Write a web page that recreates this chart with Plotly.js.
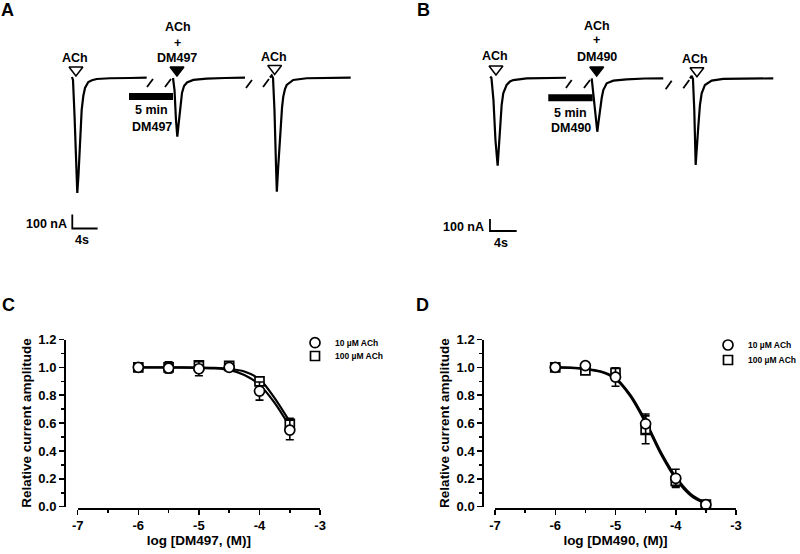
<!DOCTYPE html>
<html><head><meta charset="utf-8">
<script src="https://cdn.plot.ly/plotly-3.0.1.min.js"></script>
<style>html,body{margin:0;padding:0;background:#fff}#chart{width:800px;height:554px}</style>
</head><body><div id="chart"></div>
<script>
// ---------- Panel A recordings (time in s, current in nA) ----------
const aT1 = [-0.05, 0.11, 0.35, 0.58, 0.79, 0.98, 1.22, 1.48, 1.74, 2.01, 2.53, 3.11, 3.85, 5.96, 9.12, 11.75];
const aI1 = [7, -14, -264, -657, -821, -693, -443, -229, -129, -71, -29, -16, -7, -2, 0, 2];
const aT2 = [15.91, 16.15, 16.38, 16.59, 16.78, 17.01, 17.33, 17.65, 18.12, 19.12, 21.23, 24.12, 27.28];
const aI2 = [0, -86, -300, -419, -336, -214, -107, -57, -32, -14, -5, 0, 2];
const aT3 = [31.23, 31.5, 31.71, 31.94, 32.18, 32.31, 32.5, 32.81, 33.13, 33.33, 33.6, 33.87, 34.39, 34.91, 37.03, 40.71, 43.98];
const aI3 = [4, 18, 0, -229, -621, -812, -657, -393, -214, -134, -79, -50, -29, -14, -2, 0, 2];
const aBreakT = [11.8, 12.75, null, 14.64, 15.59, null, 27.44, 28.39, null, 30.13, 31.07];
const aBreakI = [-64, -7, null, -64, -7, null, -71, -14, null, -64, -7];
const aDrugT = [8.96, 15.91];          // 5 min DM497 pre-application
const aDrugI = [-132, -132];
const aScaleT = [0, 0, 4];             // 100 nA / 4 s
const aScaleI = [-975, -1075, -1075];
const aOpenT = [0.58, 31.97], aOpenI = [57, 68];   // ACh
const aFillT = [16.54], aFillI = [57];             // ACh + DM497

// ---------- Panel B recordings ----------
const bT1 = [0.04, 0.22, 0.52, 0.82, 1.15, 1.32, 1.5, 1.75, 1.99, 2.25, 2.5, 3.0, 3.49, 5.5, 8.25, 11.39];
const bI1 = [12, 0, -183, -517, -731, -600, -406, -225, -128, -83, -58, -29, -17, -3, 0, 2];
const bT2 = [15.25, 15.52, 15.82, 16.09, 16.27, 16.49, 16.75, 16.99, 17.5, 18.49, 20.49, 23.24, 25.98];
const bI2 = [-3, -142, -350, -448, -367, -267, -167, -100, -44, -22, -11, -4, -3];
const bT3 = [29.99, 30.24, 30.43, 30.63, 30.84, 31.03, 31.23, 31.48, 31.74, 32.23, 33.24, 34.98, 38.23, 42.47];
const bI3 = [-3, 17, -8, -267, -725, -600, -406, -225, -128, -58, -22, -8, -4, -3];
const bBreakT = [11.39, 12.25, null, 14.09, 15.0, null, 26.34, 27.24, null, 28.98, 29.88];
const bBreakI = [-83, -17, null, -83, -17, null, -94, -22, null, -86, -17];
const bDrugT = [8.74, 15.4];
const bDrugI = [-165, -165];
const bScaleT = [0, 0, 4];
const bScaleI = [-1175, -1275, -1275];
const bOpenT = [0.9, 31.03], bOpenI = [75, 61];
const bFillT = [16.0], bFillI = [67];

// ---------- Panels C and D: concentration-response ----------
const logConc = [-6, -5.5, -5, -4.5, -4, -3.5];
const c10 = [1.0, 0.995, 0.99, 1.0, 0.83, 0.55];
const c10Err = [0.01, 0.02, 0.05, 0.01, 0.065, 0.07];
const c100 = [1.0, 1.0, 1.015, 1.01, 0.9, 0.595];
const c100Err = [0.01, 0.04, 0.025, 0.015, 0.025, 0.04];
const fitXC = [-6, -5.5, -5, -4.75, -4.5, -4.25, -4, -3.75, -3.5];
const fitC10 = [1.0, 0.999, 0.997, 0.993, 0.982, 0.945, 0.875, 0.745, 0.575];
const fitC100 = [1.0, 1.0, 0.999, 0.997, 0.99, 0.97, 0.915, 0.78, 0.61];

const d10 = [1.0, 1.013, 0.93, 0.595, 0.204, 0.015];
const d10Err = [0.01, 0.01, 0.065, 0.07, 0.065, 0.005];
const d100 = [1.0, 0.979, 0.96, 0.552, 0.185, 0.015];
const d100Err = [0.02, 0.01, 0.035, 0.1, 0.04, 0.005];
const fitXD = [-6, -5.75, -5.5, -5.25, -5, -4.75, -4.5, -4.25, -4, -3.75, -3.5];
const fitD10 = [1.0, 0.998, 0.99, 0.972, 0.925, 0.8, 0.615, 0.395, 0.215, 0.09, 0.025];
const fitD100 = [1.0, 0.997, 0.988, 0.968, 0.915, 0.79, 0.6, 0.38, 0.2, 0.08, 0.02];

const seriesNames = ['10 µM ACh', '100 µM ACh'];
const xTickVals = [-7, -6, -5, -4, -3];
const xTickText = ['-7', '-6', '-5', '-4', '-3'];
const xMinorVals = [-6.5, -5.5, -4.5, -3.5];
const yTickVals = [0, 0.2, 0.4, 0.6, 0.8, 1.0, 1.2];
const yTickText = ['0.0', '0.2', '0.4', '0.6', '0.8', '1.0', '1.2'];
const yMinorVals = [0.1, 0.3, 0.5, 0.7, 0.9, 1.1];

// ---------- helpers ----------
const W = 800, H = 554;
const px = v => v / W, py = v => 1 - v / H;
const FONT = 'Liberation Sans, Arial, Helvetica, sans-serif';
const f = (s) => ({family: FONT, size: s, color: '#000', weight: 700});

function line(x, y, xa, ya, w) {
  return {x, y, xaxis: xa, yaxis: ya, type: 'scatter', mode: 'lines', showlegend: false,
    hoverinfo: 'skip', cliponaxis: false, line: {color: '#000', width: w || 2.2}};
}
function tri(x, y, xa, ya, filled) {
  return {x, y, xaxis: xa, yaxis: ya, type: 'scatter', mode: 'markers', showlegend: false,
    hoverinfo: 'skip', cliponaxis: false,
    marker: {symbol: 'triangle-down', size: 12, color: filled ? '#000' : '#fff', line: {color: '#000', width: 1.5}}};
}
function pts(y, err, xa, ya, sym, name, leg) {
  return {x: logConc, y, xaxis: xa, yaxis: ya, type: 'scatter', mode: 'markers', name, legend: leg,
    cliponaxis: false,
    error_y: {type: 'data', array: err, visible: true, color: '#000', thickness: 1.6, width: 4},
    marker: {symbol: sym, size: sym === 'circle' ? 10 : 9, color: '#fff', line: {color: '#000', width: 1.7}}};
}
function fit(x, y, xa, ya) {
  return {x, y, xaxis: xa, yaxis: ya, type: 'scatter', mode: 'lines', showlegend: false,
    hoverinfo: 'skip', cliponaxis: false, line: {color: '#000', width: 2.2, shape: 'spline', smoothing: 0.8}};
}

const data = [
  line(aT1, aI1, 'x', 'y'), line(aT2, aI2, 'x', 'y'), line(aT3, aI3, 'x', 'y'),
  line(aBreakT, aBreakI, 'x', 'y', 1.8), line(aDrugT, aDrugI, 'x', 'y', 7), line(aScaleT, aScaleI, 'x', 'y', 1.8),
  tri(aOpenT, aOpenI, 'x', 'y', false), tri(aFillT, aFillI, 'x', 'y', true),
  line(bT1, bI1, 'x2', 'y2'), line(bT2, bI2, 'x2', 'y2'), line(bT3, bI3, 'x2', 'y2'),
  line(bBreakT, bBreakI, 'x2', 'y2', 1.8), line(bDrugT, bDrugI, 'x2', 'y2', 7), line(bScaleT, bScaleI, 'x2', 'y2', 1.8),
  tri(bOpenT, bOpenI, 'x2', 'y2', false), tri(bFillT, bFillI, 'x2', 'y2', true),
  fit(fitXC, fitC100, 'x3', 'y3'), fit(fitXC, fitC10, 'x3', 'y3'),
  pts(c100, c100Err, 'x3', 'y3', 'square', seriesNames[1], 'legend2'),
  pts(c10, c10Err, 'x3', 'y3', 'circle', seriesNames[0], 'legend'),
  fit(fitXD, fitD100, 'x4', 'y4'), fit(fitXD, fitD10, 'x4', 'y4'),
  pts(d100, d100Err, 'x4', 'y4', 'square', seriesNames[1], 'legend4'),
  pts(d10, d10Err, 'x4', 'y4', 'circle', seriesNames[0], 'legend3')
];

const hidden = {visible: false, fixedrange: true, showgrid: false, zeroline: false};
function xAx(d0, d1, pos, title) {
  return {domain: [d0, d1], range: [-7, -3], anchor: 'free', position: pos, showline: true, linewidth: 1.5, linecolor: '#000',
    ticks: 'outside', ticklen: 5, tickwidth: 1.5, tickcolor: '#000', tickvals: xTickVals, ticktext: xTickText,
    tickfont: f(13), showgrid: false, zeroline: false, fixedrange: true, automargin: false,
    minor: {tickvals: xMinorVals, ticks: 'outside', ticklen: 3, tickwidth: 1.5, tickcolor: '#000', showgrid: false},
    title: {text: title, font: f(13.5), standoff: 3}};
}
function yAx(pos, title) {
  return {domain: [py(506.7), py(339.5)], range: [0, 1.2], anchor: 'free', position: pos, showline: true, linewidth: 1.5,
    linecolor: '#000', ticks: 'outside', ticklen: 5, tickwidth: 1.5, tickcolor: '#000', tickvals: yTickVals,
    ticktext: yTickText, tickfont: f(13), showgrid: false, zeroline: false, fixedrange: true, automargin: false,
    minor: {tickvals: yMinorVals, ticks: 'outside', ticklen: 3, tickwidth: 1.5, tickcolor: '#000', showgrid: false},
    title: {text: title, font: f(13.5), standoff: 2}};
}

function leg(x, y) {
  return {x: px(x), y: py(y), xanchor: 'left', yanchor: 'middle', bgcolor: 'rgba(0,0,0,0)', borderwidth: 0,
    font: f(8.5), itemwidth: 30, tracegroupgap: 0, itemclick: false, itemdoubleclick: false};
}

function ann(text, x, y, size, xanchor) {
  return {text, x: px(x), y: py(y), xref: 'paper', yref: 'paper', showarrow: false,
    xanchor: xanchor || 'center', yanchor: 'middle', font: f(size || 12.5)};
}
const annotations = [
  ann('A', 7, 10, 18), ann('B', 423, 9.5, 18), ann('C', 8, 305, 18), ann('D', 422, 305, 18),
  ann('ACh', 75, 58), ann('ACh', 177.5, 26.7), ann('+', 177.7, 42.7), ann('DM497', 176.7, 58.3),
  ann('ACh', 274, 56.7), ann('5 min', 151, 110), ann('DM497', 151.7, 126.7),
  ann('100 nA', 69, 224, 12.5, 'right'), ann('4s', 82.3, 240.5),
  ann('ACh', 495, 56), ann('ACh', 596.7, 26), ann('+', 596.7, 39.8), ann('DM490', 596.7, 56.7),
  ann('ACh', 695, 59.3), ann('5 min', 570.7, 112.7), ann('DM490', 570.7, 128.3),
  ann('100 nA', 486, 227, 12.5, 'right'), ann('4s', 500.7, 242.5)
];

const layout = {
  width: W, height: H, margin: {l: 0, r: 0, t: 0, b: 0, autoexpand: false},
  paper_bgcolor: '#fff', plot_bgcolor: 'rgba(0,0,0,0)',
  font: {family: FONT, color: '#000'}, showlegend: true, hovermode: false,
  xaxis: Object.assign({domain: [0, 0.5], range: [-11.42, 51.77], anchor: 'y'}, hidden),
  yaxis: Object.assign({domain: [py(250), 1], range: [-1228.6, 557.1], anchor: 'x'}, hidden),
  xaxis2: Object.assign({domain: [0.5, 1], range: [-13.49, 46.48], anchor: 'y2'}, hidden),
  yaxis2: Object.assign({domain: [py(250), 1], range: [-1433.3, 650], anchor: 'x2'}, hidden),
  xaxis3: xAx(px(77.7), px(320.1), py(508.3), 'log [DM497, (M)]'),
  yaxis3: yAx(px(64), 'Relative current amplitude'),
  xaxis4: xAx(px(495), px(736), py(508.3), 'log [DM490, (M)]'),
  yaxis4: yAx(px(482.3), 'Relative current amplitude'),
  legend: leg(295, 342.7), legend2: leg(295, 356),
  legend3: leg(708, 345), legend4: leg(708, 360),
  annotations
};

Plotly.newPlot('chart', data, layout, {staticPlot: true, displayModeBar: false});
</script></body></html>
